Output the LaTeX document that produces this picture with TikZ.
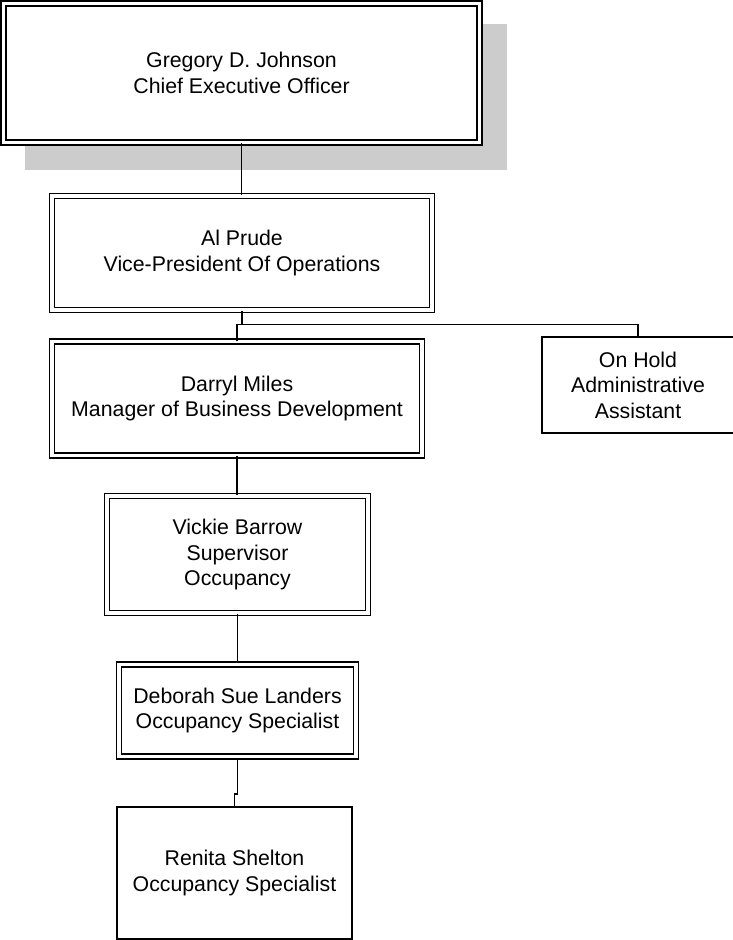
\documentclass[tikz,border=0pt]{standalone}
\usepackage{fontspec}
\setmainfont{Liberation Sans}
\begin{document}
\begin{tikzpicture}[x=1pt,y=-1pt,
  every node/.style={font=\fontsize{21.3}{25.5}\selectfont, align=center, inner sep=0pt},
  dbox/.style={draw=black, double=white, double distance=3.1pt, line width=1.9pt, fill=white, rectangle},
  sbox/.style={draw=black, line width=2pt, fill=white, rectangle},
  link/.style={draw=black, line width=1.8pt}]
\useasboundingbox (0,0) rectangle (732,940);
\fill[black!20] (25,24) rectangle (507,170);
\node[dbox, minimum width=476pt, minimum height=139pt] (ceo) at (241.5,73) {Gregory D. Johnson\\Chief Executive Officer};
\node[dbox, minimum width=380pt, minimum height=114pt] (vp) at (242,253) {Al Prude\\Vice-President Of Operations};
\node[dbox, minimum width=370pt, minimum height=113.5pt] (darryl) at (237,398.3) {Darryl Miles\\Manager of Business Development};
\node[sbox, minimum width=192pt, minimum height=96pt] (onhold) at (638,385) {On Hold\\Administrative\\Assistant};
\node[dbox, minimum width=261pt, minimum height=117pt] (vickie) at (237.5,554.5) {Vickie Barrow\\Supervisor\\Occupancy};
\node[dbox, minimum width=237pt, minimum height=92.5pt] (deborah) at (237.5,710.5) {Deborah Sue Landers\\Occupancy Specialist};
\node[sbox, minimum width=235pt, minimum height=132pt] (renita) at (234.5,873) {Renita Shelton\\Occupancy Specialist};
\coordinate (bus) at (242,324.5);
\coordinate (jog) at (237.5,794);
\draw[link] (ceo.south) -- (ceo.south |- vp.north);
\draw[link] (vp.south) -- (bus);
\draw[link] (darryl.north) |- (bus) -| (onhold.north);
\draw[link] (darryl.south) -- (darryl.south |- vickie.north);
\draw[link] (vickie.south) -- (deborah.north);
\draw[link] (deborah.south) -- (jog) -- (renita.north |- jog) -- (renita.north);
\end{tikzpicture}
\end{document}
